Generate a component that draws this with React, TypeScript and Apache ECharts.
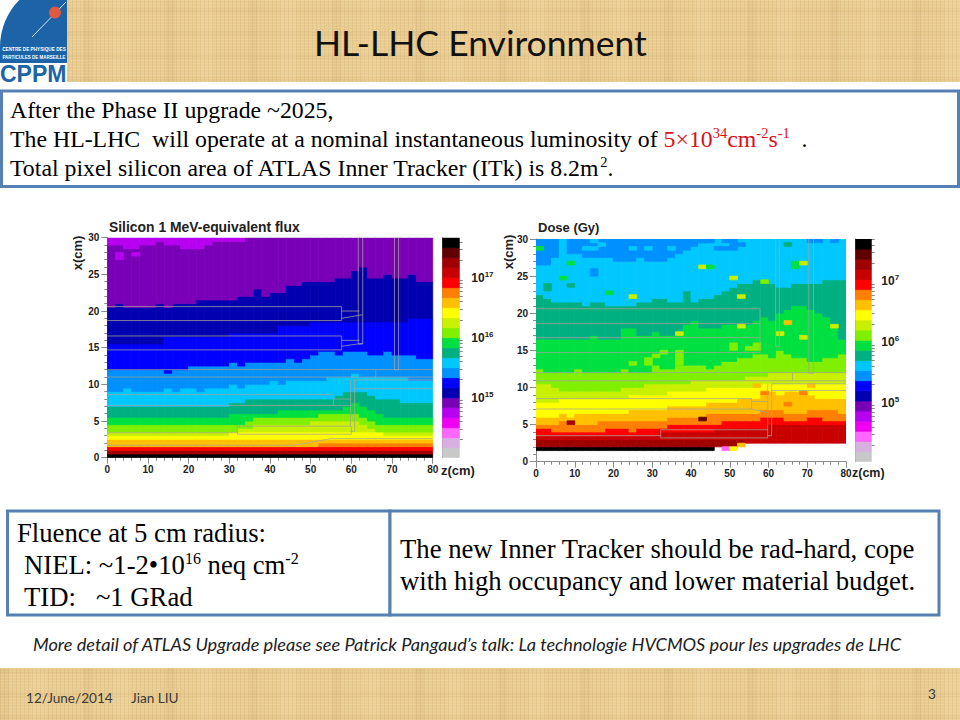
import React, { useEffect, useRef } from "react";
import * as echarts from "echarts";

// Colour scale, bottom to top
const palette = ["#c8c8c8","#d8b0e0","#ff66ff","#f000f0","#b800f0","#7a00b8","#0000b0","#0000ff","#0090ff","#00c8ff","#00b080","#00e040","#80f000","#c8f000","#ffff00","#ffc000","#ff8000","#ff0000","#c80000","#a00000","#600000","#000000"];

const zBins = [0,2,4,6,8,10,12,14,16,18,20,22,24,26,28,30,32,34,36,38,40,42,44,46,48,50,52,54,56,58,60,62,64,66,68,70,72,74,76,78];

// Silicon flux: upper edge (x, cm) of each colour level in every z bin
const fluxBottom = [0,0,0,0,0,0,0,0,0,0,0,0,0,0,0,0,0,0,0,0,0,0,0,0,0,0,0,0,0,0,0,0,0,0,0,0,0,0,0,0];
const fluxTop21 = [.5,.5,.5,.5,.5,.5,.5,.5,.5,.5,.5,.5,.5,.5,.5,.5,.5,.5,.5,.5,.5,.5,.5,.5,.5,.5,.5,.5,.5,.5,.5,.5,.5,.5,.5,.5,.5,.5,.5,.5];
const fluxTop19 = [1,1,1,1,1,1,1,1,1,1,1,1,1,1,1,1,1,1,1,1,1,1,1,1,1,1,1,1,1,1,1,1,1,1,1,1,1,1,1,1];
const fluxTop17 = [1.5,1.5,1.5,1.5,1.5,1.5,1.5,1.5,1.5,1.5,1.5,1.5,1.5,1.5,1.5,1.5,1.5,1.5,1.5,1.5,1.5,1.5,1.5,1.5,1.5,1.5,1.5,1.5,1.5,1.5,1.5,1.5,1.5,1.5,1.5,1.5,1.5,1.5,1.5,1.5];
const fluxTop16 = [1.5,1.5,1.5,1.5,1.5,1.5,1.5,1.5, 1.5,1.5,1.5,1.5,1.5,1.5,1.5,1.5, 1.5,1.5,1.5,1.5,1.5,1.5,1.5,1.5, 1.5,1.5,2,2,2,2,2,2, 2,2,2,2,2,2,2,2];
const fluxTop15 = [2.5,2.5,2.5,2.5,2.5,2.5,2.5,2.5, 2.5,2.5,2.5,2.5,2.5,2.5,2.5,2.5, 2.5,2.5,2.5,2.5,2.5,2.5,2.5,2.5, 2.5,2.5,2.5,2.5,2.5,2.5,2.5,2.5, 2.5,2.5,2.5,2.5,2.5,2.5,2.5,2.5];
const fluxTop14 = [3,3,3,3,3,3,3,3, 3,3,3,3,3,3,3,3.5, 3.5,3.5,3.5,3.5,3.5,3.5,3.5,3.5, 3.5,3.5,3.5,3.5,3.5,3.5,3.5,3.5, 3.5,3.5,3,3,3,3,3,3];
const fluxTop13 = [3.5,3.5,3.5,3.5,3.5,3.5,3.5,3.5, 3.5,3.5,3.5,3.5,3.5,3.5,3.5,3.5, 4,4,4.5,4.5,4.5,4.5,4.5,4.5, 4.5,5,5,5,5,5,5,4.5, 4,3.5,3.5,3.5,3.5,3.5,3.5,3.5];
const fluxTop12 = [4.5,4.5,4.5,4.5,4.5,4.5,4.5,4.5, 4.5,4.5,4.5,4.5,4.5,4.5,4.5,4.5, 4.5,5,5.5,5.5,5.5,5.5,5.5,5.5, 5.5,5.5,6,6,6,6,6,5.5, 5,4.5,4.5,4.5,4.5,4.5,4.5,4.5];
const fluxTop11 = [5.5,5.5,5.5,5.5,5.5,5.5,5.5,5.5, 5.5,5.5,5.5,5.5,5.5,5.5,5.5,6, 6,6,6,6,6,6.5,6.5,6.5, 6.5,6.5,6.5,6.5,6.5,7,7.5,7, 6.5,6,5.5,5.5,5.5,5.5,5.5,5.5];
const fluxTop10 = [7,7,7,7,7,7,7,7, 7,7,7,7,7,7,7,7.5, 7.5,8,8,8,8,8,8,8, 8,8,8,8,8.5,9,9,9, 8.5,8,8,8,7.5,7.5,7.5,7.5];
const fluxTop9 = [9,9,9.5,9,9,9,9,9.5, 9,9.5,9.5,9,9.5,9.5,9.5,10, 9.5,10,10,10,10.5,10,10.5,10.5, 10.5,10.5,10.5,11,11,11,11.5,11, 11,11,11,11,11,10.5,10.5,10.5];
const fluxTop8 = [12,12,12,12,12,12,12,11.5, 12,12,12.5,12.5,12.5,12.5,12.5,13, 12.5,13,13,13,13,13,13.5,13, 13.5,14,14.5,14.5,14,14.5,14.5,14.5, 14,14,14.5,14,14,14,13.5,13.5];
const fluxTop7 = [15.5,15.5,15.5,15.5,15.5,15.5,15.5,16.5, 16.5,16.5,16.5,16.5,16.5,16.5,16.5,17, 17,17,17,17,17,18,18,18, 18,18.5,18.5,18.5,18.5,18.5,18.5,18.5, 18.5,18.5,18.5,18.5,18.5,19,19,19];
const fluxTop6 = [20.5,21,20.5,20.5,20.5,20.5,21,20.5, 21,21,21,21.5,21.5,21.5,21.5,21.5, 22,22,23,22,22.5,22.5,23.5,23.5, 24,24,24,24,24.5,24.5,25.5,26, 24.5,24.5,25,24.5,24.5,25,24,24];
const fluxTop5 = [29,29,28.5,28.5,29,29,29.5,29, 29,28.5,28.5,28.5,29,29.5,29.5,29.5, 29.5,30,30,30,30,30,30,30, 30,30,30,30,30,30,30,30, 30,30,30,30,30,30,30,30];
const fluxTop4 = [30,30,30,30,30,30,30,30,30,30,30,30,30,30,30,30,30,30,30,30,30,30,30,30,30,30,30,30,30,30,30,30,30,30,30,30,30,30,30,30];
// [z bin, x bin, level]
const fluxSpots = [[2,27,4],[2,27.5,4],[6,27.5,4],[14,20.5,5]];

// Dose: same structure
const doseBottom = [1.5,1.5,1.5,1.5,1.5,1.5,1.5,1.5, 1.5,1.5,1.5,1.5,1.5,1.5,1.5,1.5, 1.5,1.5,1.5,1.5,1.5,1.5,1.5,2, 2,2,2.5,2.5,2.5,2.5,2.5,2.5, 2.5,2.5,2.5,2.5,2.5,2.5,2.5,2.5];
const doseTop21 = [2,2,2,2,2,2,2,2,2,2,2,2,2,2,2,2,2,2,2,2,2,2,2,2,2,2,2,2,2,2,2,2,2,2,2,2,2,2,2,2];
const doseTop19 = [3,3,3,3,3,3,3,3, 3,3,3,3,3,3,3,3, 3,3,3,3,3,3,3,3, 3,3,3,2.5,2.5,2.5,2.5,2.5, 2.5,2.5,2.5,2.5,2.5,2.5,2.5,2.5];
const doseTop18 = [3.5,3.5,3.5,3.5,3.5,3.5,3.5,3.5, 3.5,3.5,3.5,3.5,3.5,3.5,3.5,3.5, 4,4,4,4,4,4,4,4.5, 4.5,4.5,4.5,4.5,4.5,4.5,5,5, 5,5,5,5,5,5,5,5];
const doseTop17 = [4.5,4.5,4,4,4,4,4,4, 4,4.5,4.5,4.5,4,4.5,4.5,4.5, 4.5,5,5,5,5,5,5,5, 5.5,5.5,5.5,5.5,5.5,6,6,6, 5.5,5.5,5.5,6,6,5.5,5.5,5.5];
const doseTop16 = [5,5,5,5.5,5,5,5,5, 5.5,5.5,5.5,5.5,5.5,5.5,5.5,5.5, 5.5,6,6,6,6,6,6.5,6.5, 6.5,6.5,6.5,6.5,6.5,7,7,7, 6.5,6.5,6.5,7,7,7,7,6.5];
const doseTop15 = [6,6,6,6.5,6,6.5,6.5,6.5, 6.5,6.5,6.5,6.5,7,7,7,7, 7,7.5,7.5,7.5,7.5,7.5,8,8, 8,8,8.5,8.5,8.5,9,9.5,9.5, 9.5,9.5,9,9,8.5,8.5,8.5,8.5];
const doseTop14 = [8,8,8,8.5,8.5,8.5,8.5,8.5, 8.5,8.5,8.5,8.5,9,9,9,9, 9,9.5,9.5,9.5,9.5,9.5,10,10, 10,10,10,10,10,10.5,10.5,10.5, 10.5,10.5,10.5,10.5,10.5,10.5,10.5,10.5];
const doseTop13 = [10.5,10.5,10,9.5,9.5,9.5,9.5,9.5, 9.5,9.5,9.5,10,10,10,10.5,10.5, 10.5,10.5,10.5,10.5,11,11,11,11, 11,11,11,11.5,11.5,11.5,12,12, 12,12,12,12,12,12,12,12];
const doseTop12 = [12.5,12,12,12,12,12.5,12,12, 12,12,12,12.5,12,12,12,13, 12.5,12.5,13,13,13,13,12.5,13, 13.5,13.5,14,14,14.5,14.5,14,15, 14.5,14,14,13.5,13.5,14,14,14.5];
const doseTop11 = [16.5,16.5,16.5,16.5,16.5,16.5,16.5,17, 16.5,16.5,16.5,18,18,17,17,17.5, 17,17,17,18.5,19,18,18,18, 18.5,18.5,18.5,18.5,19,19.5,19,20, 20.5,21,21,20.5,20,19.5,18.5,16.5];
const doseTop10 = [22.5,22,21.5,21.5,21.5,21.5,21,21.5, 21.5,21,21,21,21,21.5,21.5,22, 22,21.5,21.5,23,21.5,22,22,22.5, 23,23.5,24,24,24.5,24.5,24,23.5, 23.5,24,24,24,24,24.5,24.5,24.5];
const doseTop9 = [26.5,26.5,27.5,30,28,28,27.5,27.5, 27.5,27.5,27,27,27,27.5,27,27, 27,27.5,28,28.5,29,29.5,30,30, 30,30,30,30,30,30,30,30, 30,30,30,30,30,30,30,30];
const doseTop8 = [30,30,30,30,30,30,30,30,30,30,30,30,30,30,30,30,30,30,30,30,30,30,30,30,30,30,30,30,30,30,30,30,30,30,30,30,30,30,30,30];
const doseSpots = [
  [0,28.5,11],[8,26.5,11],[14,25,8],[14,25.5,8],[6,24.5,11],[2,23.5,10],[2,23,10],[8,23.5,10],[18,22.5,11],[24,22,13],
  [42,26,13],[44,26,11],[50,24.5,13],[52,22,13],[58,24,12],[66,26.5,11],[66,26,11],[68,26.5,13],[64,29,10],
  [42,29.5,8],[44,29.5,8],[48,29.5,8],[50,29.5,8],[50,29,8],[52,29,8],[46,28.5,8],[48,28.5,8],[50,28.5,8],[70,29.5,8],[72,29.5,8],[76,29.5,8],
  [12,28.5,9],[14,28.5,9],[14,29.5,9],[16,29,9],[24,28.5,9],[28,28.5,9],[34,28.5,9],[60,28,9],
  [64,18.5,15],[76,18,13],[68,16.5,13],[62,17,13],[52,18,13],[36,17,13],
  [36,14,12],[36,13.5,12],[36,13,12],[36,14.5,12],[50,15,12],[50,15.5,12],[54,15,12],[56,15,12],[56,15.5,12],[24,13,12],[28,13.5,12],[30,14,12],[28,13,12],[32,14.5,12],
  [8,5,19],[42,5.5,20],[48,1.5,2],[50,1.5,14],[52,2,15],
  [64,7.5,16],[68,9,16],[70,10,15],[62,9,14],[58,9,16],[56,10,15],
];

// Detector outlines, as [z, x] polylines
const fluxOutlines = [
  [[0,20.6],[57.6,20.6],[57.6,18.7],[0,18.7]],[[57.6,20],[62,20]],[[57.6,19],[62.8,19.5]],
  [[0,16.6],[57.6,16.6],[57.6,14.7],[0,14.7]],[[57.6,16],[62,16]],[[57.6,15.2],[62.8,15.6]],
  [[61.7,30],[61.7,15.5],[62.8,15.5],[62.8,30]],[[70.6,30],[70.6,12],[71.6,12],[71.6,30]],
  [[0,12],[80,12]],[[0,11],[80,11]],[[66,11],[66,12]],[[60.5,10.6],[80,10.6]],[[60.5,9.4],[80,9.4]],
  [[59.8,10.6],[59.8,4.3]],[[60.8,10.6],[60.8,3.6],[59.8,3.6]],
  [[0,8.6],[55.6,8.6]],[[0,7.1],[55.6,7.1],[55.6,8],[60,8]],[[55.6,7.1],[60,7.1]],
  [[32,4.3],[60,4.3],[60,3.2],[32,3.2],[32,4.3]],[[0,3.4],[32,3.4]],
  [[0,1.7],[46,1.7],[55,2.6],[80,2.6]],
];
const doseOutlines = [
  [[0,20.6],[57.8,20.6],[57.8,14.7],[0,14.7]],[[0,18.6],[57.8,18.6]],[[0,16.7],[57.8,16.7]],
  [[61.8,30],[61.8,15.5],[62.8,15.5],[62.8,30]],[[70.4,30],[70.4,11.9],[71.6,11.9],[71.6,30]],
  [[0,12],[80,12]],[[0,10.9],[80,10.9]],[[66.2,10.9],[66.2,12]],[[60.8,10.5],[80,10.5]],[[60.8,9.6],[80,9.6]],
  [[59.8,10.5],[59.8,3.2]],[[60.8,10.5],[60.8,3.5],[59.8,3.5]],
  [[0,8.5],[55.6,8.5],[55.6,7.1],[0,7.1]],[[55.6,8.1],[59.8,8.1]],[[55.6,7.1],[59.8,6.6]],
  [[32.2,4.3],[59.8,4.3]],[[32.2,4.3],[32.2,3.2],[59.8,3.2]],[[0,3.5],[32.2,3.5]],
];

const fluxLevels = [21,19,17,16,15,14,13,12,11,10,9,8,7,6,5,4];
const fluxBands = [fluxTop21,fluxTop19,fluxTop17,fluxTop16,fluxTop15,fluxTop14,fluxTop13,fluxTop12,fluxTop11,fluxTop10,fluxTop9,fluxTop8,fluxTop7,fluxTop6,fluxTop5,fluxTop4];
const doseLevels = [21,19,18,17,16,15,14,13,12,11,10,9,8];
const doseBands = [doseTop21,doseTop19,doseTop18,doseTop17,doseTop16,doseTop15,doseTop14,doseTop13,doseTop12,doseTop11,doseTop10,doseTop9,doseTop8];

const fluxExpRange = [14, 17.67];
const doseExpRange = [4.03, 7.7];
const fluxLabelExps = [15, 16, 17];
const doseLabelExps = [5, 6, 7];
const minorLogs = [0.301,0.477,0.602,0.699,0.778,0.845,0.903,0.954];
const xTickLabels = { z: 10, x: 5 };

function buildCells(bottom: number[], bands: number[][], levels: number[], spots: number[][]) {
  const cells: number[][] = [];
  zBins.forEach((z, i) => {
    let prev = bottom[i];
    bands.forEach((band, b) => {
      if (band[i] > prev) { cells.push([z, z + 2, prev, band[i], levels[b]]); prev = band[i]; }
    });
  });
  spots.forEach(([z, x, l]) => cells.push([z, z + 2, x, x + 0.5, l]));
  return cells;
}
function barCells(range: number[]) {
  const step = (range[1] - range[0]) / palette.length;
  return palette.map((_, i) => [0, 1, range[0] + i * step, range[0] + (i + 1) * step, i]);
}
function minorExps(range: number[]) {
  const out: number[] = [];
  for (let d = Math.floor(range[0]); d < range[1]; d++) minorLogs.forEach((m) => { if (d + m > range[0] && d + m < range[1]) out.push(d + m); });
  return out;
}
const renderCell = (_: any, api: any) => {
  const a = api.coord([api.value(0), api.value(3)]);
  const b = api.coord([api.value(1), api.value(2)]);
  const fill = palette[api.value(4)];
  return { type: "rect", shape: { x: a[0], y: a[1], width: b[0] - a[0], height: b[1] - a[1] }, style: { fill, stroke: fill, lineWidth: 0.8 } };
};

const AX = "#8a8a8a";
const tickFont = { fontFamily: "Liberation Sans", fontWeight: "bold" as const, fontSize: 10, color: "#222" };

function mainX(grid: number) {
  return { type: "value", gridIndex: grid, min: 0, max: 80, interval: xTickLabels.z, axisLine: { show: true, onZero: false, lineStyle: { color: AX } },
    axisTick: { length: 6, lineStyle: { color: AX } }, minorTick: { show: true, splitNumber: 5, length: 3, lineStyle: { color: AX } }, splitLine: { show: false }, axisLabel: { ...tickFont, margin: 7 } };
}
function mainY(grid: number) {
  return { type: "value", gridIndex: grid, min: 0, max: 30, interval: xTickLabels.x, axisLine: { show: true, onZero: false, lineStyle: { color: AX } },
    axisTick: { length: 6, lineStyle: { color: AX } }, minorTick: { show: true, splitNumber: 5, length: 3, lineStyle: { color: AX } }, splitLine: { show: false }, axisLabel: { ...tickFont, margin: 8 } };
}
function barX(grid: number) { return { type: "value", gridIndex: grid, min: 0, max: 1, show: false }; }
function barY(grid: number, range: number[], labels: number[], margin: number) {
  return { type: "value", gridIndex: grid, position: "right", min: range[0], max: range[1],
    axisLine: { show: true, lineStyle: { color: AX } }, axisTick: { show: true, length: 8, customValues: labels, lineStyle: { color: AX } }, splitLine: { show: false },
    axisLabel: { show: true, customValues: labels, margin, formatter: (v: number) => `{b|10}{s|${Math.round(v)}}`, rich: { b: { ...tickFont, fontSize: 12, lineHeight: 15 }, s: { ...tickFont, fontSize: 8, lineHeight: 15, verticalAlign: "top" } } } };
}
function barMinorY(grid: number, range: number[]) {
  return { type: "value", gridIndex: grid, position: "right", min: range[0], max: range[1],
    axisLine: { show: false }, axisTick: { show: true, length: 3.5, customValues: minorExps(range), lineStyle: { color: AX } }, splitLine: { show: false }, axisLabel: { show: false } };
}
function cellSeries(xi: number, yi: number, data: number[][]) {
  return { type: "custom", xAxisIndex: xi, yAxisIndex: yi, data, renderItem: renderCell, silent: true, clip: true, z: 2 };
}
function outlineSeries(xi: number, yi: number, lines: number[][][]) {
  return lines.map((l) => ({ type: "line", xAxisIndex: xi, yAxisIndex: yi, data: l, symbol: "none", silent: true, z: 4, clip: true, lineStyle: { color: "#a4a498", width: 1, opacity: 0.75 } }));
}

const serif = "Liberation Serif";
const boxBlue = "#5680b2";
const txt = (x: number, y: number, text: string, font: any, extra: any = {}) => ({ type: "text", x, y, ...extra, style: { text, fill: font.fill || "#000", fontFamily: font.family, fontSize: font.size, fontWeight: font.weight, fontStyle: font.style, verticalAlign: "middle", align: font.align || "left", rich: font.rich } });
const boxRect = (x: number, y: number, w: number, h: number) => ({ type: "rect", shape: { x, y, width: w, height: h }, style: { fill: "#fff", stroke: boxBlue, lineWidth: 3 } });
const r24top = { base: { fontFamily: serif, fontSize: 23.8, lineHeight: 28, fill: "#000" }, s: { fontFamily: serif, fontSize: 14.5, lineHeight: 28, fill: "#000", verticalAlign: "top" }, r: { fontFamily: serif, fontSize: 23.8, lineHeight: 28, fill: "#d8121c" }, rs: { fontFamily: serif, fontSize: 14.5, lineHeight: 28, fill: "#d8121c", verticalAlign: "top" } };
const r27 = { base: { fontFamily: serif, fontSize: 26.7, lineHeight: 30, fill: "#000" }, s: { fontFamily: serif, fontSize: 16, lineHeight: 30, fill: "#000", verticalAlign: "top" } };

const slideGraphics = [
  // logo
  { type: "rect", shape: { x: 0, y: 0, width: 67, height: 82 }, style: { fill: "#fff" } },
  { type: "sector", shape: { cx: 67, cy: 47, r: 67, r0: 0, startAngle: Math.PI, endAngle: Math.PI * 1.5, clockwise: true }, style: { fill: "#1c63a8" } },
  { type: "rect", shape: { x: 0, y: 46, width: 67, height: 17 }, style: { fill: "#1c63a8" } },
  { type: "line", shape: { x1: 32, y1: 37, x2: 66, y2: 2 }, style: { stroke: "#d6e4f2", lineWidth: 1 } },
  { type: "circle", shape: { cx: 55, cy: 12.5, r: 6 }, style: { fill: "#e05a40" } },
  txt(34, 49.5, "CENTRE DE PHYSIQUE DES", { family: "Liberation Sans", size: 4.7, weight: "bold", fill: "#fff", align: "center" }),
  txt(34, 57, "PARTICULES DE MARSEILLE", { family: "Liberation Sans", size: 4.5, weight: "bold", fill: "#fff", align: "center" }),
  txt(0, 73.5, "CPPM", { family: "Liberation Sans", size: 23, weight: "bold", fill: "#1c63a8" }),
  // title
  txt(314, 42, "HL-LHC Environment", { family: "Lato", size: 35.5, fill: "#111" }),
  // top box
  boxRect(1.5, 91, 957, 95.5),
  txt(10, 110, "After the Phase II upgrade ~2025,", { family: serif, size: 23.8 }),
  txt(10, 139, "{base|The HL-LHC  will operate at a nominal instantaneous luminosity of }{r|5×10}{rs|34}{r|cm}{rs|-2}{r|s}{rs|-1}{base|  .}", { family: serif, size: 23.8, rich: r24top }),
  txt(10, 168, "{base|Total pixel silicon area of ATLAS Inner Tracker (ITk) is 8.2m}{s|2}{base|.}", { family: serif, size: 23.8, rich: r24top }),
  // plot titles
  txt(109, 227, "Silicon 1 MeV-equivalent flux", { family: "Liberation Sans", size: 13.9, weight: "bold", fill: "#222" }),
  txt(538, 227, "Dose (Gy)", { family: "Liberation Sans", size: 13, weight: "bold", fill: "#222" }),
  txt(77, 253, "x(cm)", { family: "Liberation Sans", size: 13, weight: "bold", fill: "#222", align: "center" }, { rotation: Math.PI / 2 }),
  txt(508, 252, "x(cm)", { family: "Liberation Sans", size: 13, weight: "bold", fill: "#222", align: "center" }, { rotation: Math.PI / 2 }),
  txt(441, 470, "z(cm)", { family: "Liberation Sans", size: 13, weight: "bold", fill: "#222" }),
  txt(852, 473, "z(cm)", { family: "Liberation Sans", size: 12.5, weight: "bold", fill: "#222" }),
  // lower boxes
  boxRect(7.5, 511, 382.5, 104),
  boxRect(390, 511, 549, 104),
  txt(17, 533, "Fluence at 5 cm radius:", { family: serif, size: 26.7 }),
  txt(24, 565, "{base|NIEL: ~1-2•10}{s|16}{base| neq cm}{s|-2}", { family: serif, size: 26.7, rich: r27 }),
  txt(24, 597, "TID:   ~1 GRad", { family: serif, size: 26.7 }),
  txt(400, 549, "The new Inner Tracker should be rad-hard, cope", { family: serif, size: 26.7 }),
  txt(400, 581, "with high occupancy and lower material budget.", { family: serif, size: 26.7 }),
  txt(33, 644, "More detail of ATLAS Upgrade please see Patrick Pangaud’s talk: La technologie HVCMOS pour les upgrades de LHC", { family: "Lato", size: 18.2, style: "italic", fill: "#222" }),
  txt(26, 698, "12/June/2014", { family: "Lato", size: 13.6, fill: "#3a3a3a" }),
  txt(131, 698, "Jian LIU", { family: "Lato", size: 13.6, fill: "#3a3a3a" }),
  txt(928, 694, "3", { family: "Lato", size: 13.6, fill: "#3a3a3a" }),
];

const paper = {
  position: "absolute" as const, left: 0, width: 960,
  background: [
    "repeating-linear-gradient(90deg, rgba(140,95,30,.07) 0 1px, transparent 1px 4px)",
    "repeating-linear-gradient(0deg, rgba(255,245,210,.12) 0 1px, transparent 1px 3px)",
    "repeating-linear-gradient(90deg, rgba(165,115,45,.06) 0 9px, transparent 9px 31px, rgba(255,240,200,.08) 31px 47px, transparent 47px 83px)",
    "repeating-linear-gradient(0deg, rgba(165,115,45,.05) 0 5px, transparent 5px 23px)",
    "#e9cc91",
  ].join(","),
};

export default function App() {
  const ref = useRef<HTMLDivElement>(null);
  useEffect(() => {
    document.body.style.margin = "0";
    const chart = echarts.init(ref.current!, undefined, { renderer: "svg" });
    chart.setOption({
      animation: false,
      backgroundColor: "transparent",
      graphic: { elements: slideGraphics },
      grid: [
        { left: 107.3, top: 237.7, width: 325.4, height: 220 },
        { left: 442.7, top: 237.7, width: 16.6, height: 220 },
        { left: 536, top: 239, width: 310, height: 222.7 },
        { left: 855.7, top: 239, width: 15.6, height: 222.7 },
      ],
      xAxis: [mainX(0), barX(1), mainX(2), barX(3)],
      yAxis: [mainY(0), barY(1, fluxExpRange, fluxLabelExps, 12), barMinorY(1, fluxExpRange), mainY(2), barY(3, doseExpRange, doseLabelExps, 10), barMinorY(3, doseExpRange)],
      series: [
        cellSeries(0, 0, buildCells(fluxBottom, fluxBands, fluxLevels, fluxSpots)),
        ...outlineSeries(0, 0, fluxOutlines),
        cellSeries(1, 1, barCells(fluxExpRange)),
        cellSeries(2, 3, buildCells(doseBottom, doseBands, doseLevels, doseSpots)),
        ...outlineSeries(2, 3, doseOutlines),
        cellSeries(3, 4, barCells(doseExpRange)),
      ],
    });
    return () => chart.dispose();
  }, []);
  return (
    <div style={{ position: "absolute", left: 0, top: 0, width: 960, height: 720, background: "#fff", overflow: "hidden" }}>
      <div style={{ ...paper, top: 0, height: 82 }} />
      <div style={{ ...paper, top: 668, height: 52 }} />
      <div ref={ref} style={{ position: "absolute", left: 0, top: 0, width: 960, height: 720 }} />
    </div>
  );
}
